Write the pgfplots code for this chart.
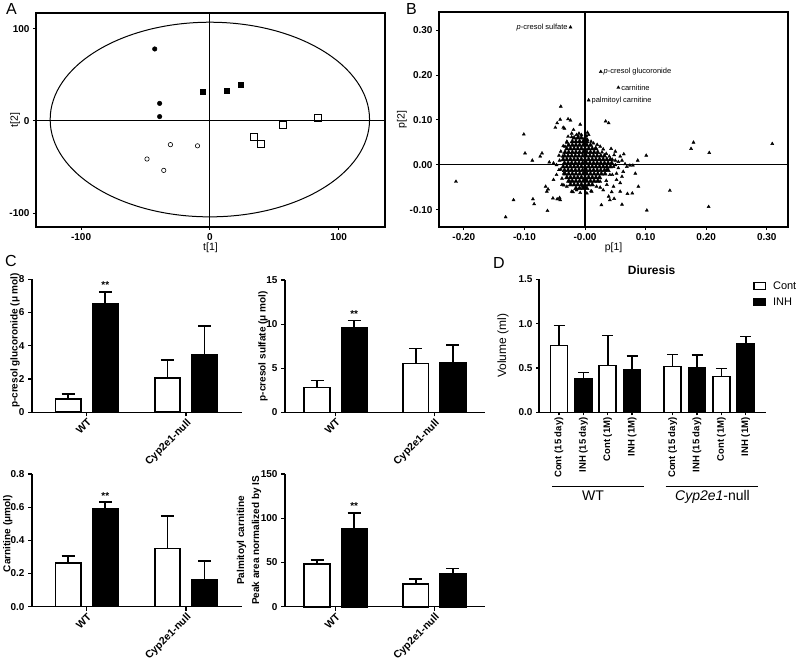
\documentclass[border=0pt]{standalone}
\usepackage{fontspec}
\setmainfont{Liberation Sans}
\usepackage{pgfplots}
\pgfplotsset{compat=1.18}
\pgfplotsset{
  pcax/.style={scale only axis, clip=false,
    axis line style={line width=1.1pt},
    every tick/.style={black, line width=0.9pt},
    tick align=outside, major tick length=3pt, tick pos=left,
    /pgf/number format/assume math mode=true,
    ticklabel style={font=\fontsize{10}{12}\selectfont\bfseries},
    label style={font=\fontsize{10.5}{12}\selectfont}},
  barax/.style={scale only axis, clip=false, axis lines*=left,
    axis line style={line width=1.3pt},
    every tick/.style={black, line width=1.2pt},
    tick align=outside, major tick length=4pt, ymin=0,
    /pgf/number format/assume math mode=true,
    ticklabel style={font=\fontsize{10}{11}\selectfont\bfseries},
    label style={font=\fontsize{10}{15}\selectfont\bfseries}},
  cax/.style={barax, xtick={1,2}, xticklabels={WT,Cyp2e1-null},
    xticklabel style={rotate=45, anchor=north east, inner sep=1pt, font=\fontsize{10.5}{11}\selectfont\bfseries}},
  wbar/.style={ybar, bar width=#1, bar shift=0pt, fill=white, draw=black, line width=1.6pt,
    error bars/y dir=plus, error bars/y explicit,
    error bars/error bar style={line width=1.6pt, black},
    error bars/error mark options={rotate=90, mark size=6.5pt, line width=1.6pt, black}},
  kbar/.style={wbar=#1, fill=black},
}
\begin{document}
\begin{tikzpicture}
\useasboundingbox (0pt,0pt) rectangle (800pt,-660pt);
% panel letters
\node[anchor=base west, inner sep=0pt, font=\fontsize{16}{16}\selectfont] at (6pt,-15pt) {A};
\node[anchor=base west, inner sep=0pt, font=\fontsize{16}{16}\selectfont] at (406pt,-15pt) {B};
\node[anchor=base west, inner sep=0pt, font=\fontsize{16}{16}\selectfont] at (5pt,-267pt) {C};
\node[anchor=base west, inner sep=0pt, font=\fontsize{16}{16}\selectfont] at (493pt,-269pt) {D};

% ---------------- A ----------------
\begin{axis}[pcax, at={(36pt,-13pt)}, anchor=north west, width=349pt, height=214pt,
  xmin=-135, xmax=136, ymin=-115, ymax=117,
  xtick={-100,0,100}, ytick={-100,0,100},
  xlabel={t[1]}, ylabel={t[2]},
  xlabel style={at={(axis description cs:0.5,-0.098)}, anchor=center},
  ylabel style={at={(axis description cs:-0.06,0.5)}, anchor=center}]
\draw[line width=1.1pt] (axis cs:-135,0) -- (axis cs:136,0);
\draw[line width=1.1pt] (axis cs:0,-115) -- (axis cs:0,117);
\draw[line width=1pt] (axis cs:0,1.5) ellipse [x radius=124, y radius=105.5];
\addplot[only marks, mark=*, mark size=2.3pt] coordinates {(-42.8,78) (-39,19) (-39,4.7)};
\addplot[only marks, mark=square*, mark size=2.5pt] coordinates {(-5.7,31.5) (13,33) (23.9,38.8)};
\addplot[only marks, mark=o, mark size=2.2pt, mark options={line width=0.6pt}] coordinates {(-30.6,-25.7) (-9.6,-27) (-48.8,-41.3) (-35.8,-53.6)};
\addplot[only marks, mark=square, mark size=3.5pt, mark options={line width=1.1pt}] coordinates {(34.2,-17.7) (39.4,-25) (57,-4.3) (84.3,2.9)};
\end{axis}

% ---------------- B ----------------
\begin{axis}[pcax, at={(439pt,-12pt)}, anchor=north west, width=349pt, height=215pt,
  xmin=-0.241, xmax=0.335, ymin=-0.138, ymax=0.34,
  xtick={-0.2,-0.1,0,0.1,0.2,0.3}, xticklabels={-0.20,-0.10,-0.00,0.10,0.20,0.30},
  ytick={-0.1,0,0.1,0.2,0.3}, yticklabels={-0.10,0.00,0.10,0.20,0.30},
  xlabel={p[1]}, ylabel={p[2]},
  xlabel style={at={(axis description cs:0.5,-0.098)}, anchor=center},
  ylabel style={at={(axis description cs:-0.106,0.5)}, anchor=center}]
\draw[line width=1.1pt] (axis cs:-0.241,0) -- (axis cs:0.335,0);
\draw[line width=1.1pt] (axis cs:0,-0.138) -- (axis cs:0,0.34);
% dense core
\addplot[only marks, mark=triangle*, mark size=2.6pt] coordinates {
(-0.018,0.060)(-0.012,0.060)(-0.006,0.060)(0.000,0.060)
(-0.021,0.052)(-0.015,0.052)(-0.009,0.052)(-0.003,0.052)(0.003,0.052)
(-0.027,0.044)(-0.021,0.044)(-0.015,0.044)(-0.009,0.044)(-0.003,0.044)(0.003,0.044)(0.009,0.044)
(-0.030,0.036)(-0.024,0.036)(-0.018,0.036)(-0.012,0.036)(-0.006,0.036)(0.000,0.036)(0.006,0.036)(0.012,0.036)(0.018,0.036)
(-0.033,0.028)(-0.027,0.028)(-0.021,0.028)(-0.015,0.028)(-0.009,0.028)(-0.003,0.028)(0.003,0.028)(0.009,0.028)(0.015,0.028)(0.021,0.028)
(-0.034,0.020)(-0.028,0.020)(-0.022,0.020)(-0.016,0.020)(-0.010,0.020)(-0.004,0.020)(0.002,0.020)(0.008,0.020)(0.014,0.020)(0.020,0.020)(0.026,0.020)(0.032,0.020)
(-0.036,0.012)(-0.030,0.012)(-0.024,0.012)(-0.018,0.012)(-0.012,0.012)(-0.006,0.012)(0.000,0.012)(0.006,0.012)(0.012,0.012)(0.018,0.012)(0.024,0.012)(0.030,0.012)(0.036,0.012)(0.042,0.012)
(-0.034,0.004)(-0.028,0.004)(-0.022,0.004)(-0.016,0.004)(-0.010,0.004)(-0.004,0.004)(0.002,0.004)(0.008,0.004)(0.014,0.004)(0.020,0.004)(0.026,0.004)(0.032,0.004)(0.038,0.004)(0.044,0.004)
(-0.036,-0.004)(-0.030,-0.004)(-0.024,-0.004)(-0.018,-0.004)(-0.012,-0.004)(-0.006,-0.004)(0.000,-0.004)(0.006,-0.004)(0.012,-0.004)(0.018,-0.004)(0.024,-0.004)(0.030,-0.004)(0.036,-0.004)(0.042,-0.004)
(-0.034,-0.012)(-0.028,-0.012)(-0.022,-0.012)(-0.016,-0.012)(-0.010,-0.012)(-0.004,-0.012)(0.002,-0.012)(0.008,-0.012)(0.014,-0.012)(0.020,-0.012)(0.026,-0.012)(0.032,-0.012)(0.038,-0.012)
(-0.033,-0.020)(-0.027,-0.020)(-0.021,-0.020)(-0.015,-0.020)(-0.009,-0.020)(-0.003,-0.020)(0.003,-0.020)(0.009,-0.020)(0.015,-0.020)(0.021,-0.020)(0.027,-0.020)(0.033,-0.020)
(-0.030,-0.028)(-0.024,-0.028)(-0.018,-0.028)(-0.012,-0.028)(-0.006,-0.028)(0.000,-0.028)(0.006,-0.028)(0.012,-0.028)(0.018,-0.028)(0.024,-0.028)
(-0.027,-0.036)(-0.021,-0.036)(-0.015,-0.036)(-0.009,-0.036)(-0.003,-0.036)(0.003,-0.036)(0.009,-0.036)(0.015,-0.036)(0.021,-0.036)
(-0.024,-0.044)(-0.018,-0.044)(-0.012,-0.044)(-0.006,-0.044)(0.000,-0.044)(0.006,-0.044)(0.012,-0.044)
(-0.015,-0.052)(-0.009,-0.052)(-0.003,-0.052)(0.003,-0.052)
};
% scattered points
\addplot[only marks, mark=triangle*, mark size=1.8pt] coordinates {
(-0.024,0.306)(0.026,0.207)(0.055,0.172)(0.006,0.144)
(-0.040,0.130)(-0.049,0.083)(-0.046,0.093)(-0.041,0.101)(-0.036,0.083)(-0.028,0.102)(-0.024,0.099)(-0.034,0.081)
(-0.008,0.090)(0.034,0.097)(0.039,0.093)
(-0.101,0.068)(-0.099,0.026)(-0.087,0.010)(-0.074,0.019)(-0.071,0.026)(-0.059,0.006)(-0.052,0.004)
(-0.213,-0.037)(-0.131,-0.116)(-0.118,-0.078)(-0.086,-0.076)(-0.084,-0.087)(-0.062,-0.102)
(-0.065,-0.048)(-0.063,-0.059)(-0.061,-0.054)(-0.053,-0.074)(-0.046,-0.076)(-0.041,-0.078)(-0.042,-0.073)
(-0.052,-0.033)(-0.038,-0.044)(-0.035,-0.019)(-0.037,0.019)(-0.043,0.021)(-0.047,0.000)(-0.043,-0.011)(-0.047,-0.022)
(-0.033,0.041)(-0.030,0.052)(-0.028,0.063)(-0.022,0.070)(-0.014,0.067)(-0.019,0.078)(-0.011,0.063)(-0.006,0.067)
(0.002,0.064)(0.004,0.056)(0.006,0.067)(0.014,0.048)(0.017,0.037)(0.025,0.041)(0.043,0.036)(0.040,0.019)
(0.050,0.030)(0.058,0.019)(0.061,0.010)(0.064,0.024)(0.074,-0.001)(0.079,-0.001)(0.083,-0.019)(0.087,0.010)
(0.101,0.021)(0.088,-0.048)(0.070,-0.064)(0.078,-0.063)(0.061,-0.088)(0.027,-0.089)(0.039,-0.070)(0.041,-0.078)
(0.048,-0.075)(0.058,-0.059)(0.047,-0.048)(0.052,-0.033)(0.036,-0.044)(0.030,-0.056)(0.019,-0.048)(0.011,-0.059)
(0.025,-0.037)(0.003,-0.063)(-0.004,-0.048)(-0.014,-0.056)(-0.022,-0.059)(-0.030,-0.048)(-0.025,-0.037)
(0.140,-0.057)(0.102,-0.101)(0.204,-0.093)(0.175,0.036)(0.179,0.050)(0.205,0.027)(0.309,0.047)
(0.036,-0.011)(0.047,-0.004)(0.055,-0.007)(0.052,-0.019)(0.063,-0.015)(0.061,-0.026)(0.069,-0.004)(0.041,-0.022)
(0.055,0.007)(0.045,0.012)(0.050,0.000)(0.066,0.002)(0.058,-0.040)(0.044,-0.060)
(-0.040,0.030)(-0.042,0.010)(-0.040,-0.010)(-0.038,-0.030)(-0.035,-0.045)(-0.020,-0.060)(-0.008,-0.062)
(0.010,-0.058)(0.025,-0.050)(0.035,-0.035)(0.045,-0.022)(0.050,0.010)(0.048,0.022)(0.030,0.035)(0.020,0.045)
(0.010,0.052)(0.004,0.072)(-0.010,0.070)(-0.022,0.062)(-0.030,0.050)(-0.036,0.042)(0.028,0.028)(0.035,0.025)
};
\node[anchor=east, inner sep=1.5pt, font=\fontsize{7.5}{9}\selectfont] at (axis cs:-0.026,0.306) {\textit{p}-cresol sulfate};
\node[anchor=west, inner sep=1.5pt, font=\fontsize{7.5}{9}\selectfont] at (axis cs:0.028,0.207) {\textit{p}-cresol glucoronide};
\node[anchor=west, inner sep=1.5pt, font=\fontsize{7.5}{9}\selectfont] at (axis cs:0.057,0.172) {carnitine};
\node[anchor=west, inner sep=1.5pt, font=\fontsize{7.5}{9}\selectfont] at (axis cs:0.008,0.144) {palmitoyl carnitine};
\end{axis}

% ---------------- C1 ----------------
\begin{axis}[cax, at={(32pt,-279.3pt)}, anchor=north west, width=210pt, height=133pt,
  xmin=0.449, xmax=2.564, ymax=8, ytick={0,2,4,6,8},
  ylabel={p-cresol glucoronide (μ mol)},
  ylabel style={at={(axis description cs:-0.081,0.54)}, anchor=center}]
\addplot[wbar=0.256] coordinates {(0.813,0.8) +- (0,0.3) (1.813,2.08) +- (0,1.07)};
\addplot[kbar=0.256] coordinates {(1.187,6.55) +- (0,0.7) (2.187,3.45) +- (0,1.74)};
\node[anchor=south, font=\fontsize{10}{10}\selectfont\bfseries, inner sep=2pt] at (axis cs:1.187,7.3) {**};
\end{axis}

% ---------------- C2 ----------------
\begin{axis}[cax, at={(285pt,-280pt)}, anchor=north west, width=200pt, height=132.3pt,
  xmin=0.487, xmax=2.513, ymax=15, ytick={0,5,10,15},
  ylabel={p-cresol sulfate (μ mol)},
  ylabel style={at={(axis description cs:-0.11,0.5)}, anchor=center}]
\addplot[wbar=0.26] coordinates {(0.812,2.8) +- (0,0.8) (1.812,5.55) +- (0,1.7)};
\addplot[kbar=0.26] coordinates {(1.188,9.6) +- (0,0.8) (2.188,5.6) +- (0,2.0)};
\node[anchor=south, font=\fontsize{10}{10}\selectfont\bfseries, inner sep=2pt] at (axis cs:1.188,10.5) {**};
\end{axis}

% ---------------- C3 ----------------
\begin{axis}[cax, at={(32pt,-474pt)}, anchor=north west, width=210pt, height=132.7pt,
  xmin=0.449, xmax=2.564, ymax=0.8, ytick={0,0.2,0.4,0.6,0.8},
  yticklabel style={/pgf/number format/.cd, fixed, fixed zerofill, precision=1},
  ylabel={Carnitine (μmol)},
  ylabel style={at={(axis description cs:-0.115,0.55)}, anchor=center}]
\addplot[wbar=0.256] coordinates {(0.813,0.265) +- (0,0.04) (1.813,0.35) +- (0,0.195)};
\addplot[kbar=0.256] coordinates {(1.187,0.59) +- (0,0.04) (2.187,0.165) +- (0,0.11)};
\node[anchor=south, font=\fontsize{10}{10}\selectfont\bfseries, inner sep=2pt] at (axis cs:1.187,0.635) {**};
\end{axis}

% ---------------- C4 ----------------
\begin{axis}[cax, at={(285pt,-474pt)}, anchor=north west, width=200pt, height=132.7pt,
  xmin=0.487, xmax=2.513, ymax=150, ytick={0,50,100,150},
  ylabel={Palmitoyl carnitine\\Peak area normalized by IS},
  ylabel style={at={(axis description cs:-0.18,0.5)}, anchor=center, align=center}]
\addplot[wbar=0.26] coordinates {(0.812,48) +- (0,4.5) (1.812,26) +- (0,5)};
\addplot[kbar=0.26] coordinates {(1.188,88) +- (0,18) (2.188,37) +- (0,6)};
\node[anchor=south, font=\fontsize{10}{10}\selectfont\bfseries, inner sep=2pt] at (axis cs:1.188,107) {**};
\end{axis}

% ---------------- D ----------------
\begin{axis}[barax, at={(539pt,-279.3pt)}, anchor=north west, width=227pt, height=133pt,
  xmin=0.179, xmax=9.5, ymax=1.5, ytick={0,0.5,1,1.5}, major tick length=3pt,
  yticklabel style={/pgf/number format/.cd, fixed, fixed zerofill, precision=1},
  xtick={1,2,3,4,5.667,6.667,7.667,8.667},
  xticklabels={Cont (15 day),INH (15 day),Cont (1M),INH (1M),Cont (15 day),INH (15 day),Cont (1M),INH (1M)},
  xticklabel style={rotate=90, anchor=east, inner sep=2pt, font=\fontsize{9.5}{10}\selectfont\bfseries},
  ylabel={Volume (ml)},
  ylabel style={at={(axis description cs:-0.159,0.5)}, anchor=center, font=\fontsize{12}{14}\selectfont\mdseries},
  title={Diuresis},
  title style={at={(axis description cs:0.496,1.02)}, anchor=center, font=\fontsize{12}{14}\selectfont\bfseries},
  legend entries={Cont,INH},
  legend style={at={(axis description cs:0.943,1.0)}, anchor=north west, draw=none, fill=none,
    inner sep=0pt, row sep=3pt, column sep=5pt, font=\fontsize{11}{13}\selectfont, cells={anchor=west}},
  ]
\addlegendimage{legend image code/.code={\draw[fill=white, draw=black, line width=1.3pt] (0pt,-3.5pt) rectangle (11.5pt,3.5pt);}}
\addlegendimage{legend image code/.code={\draw[fill=black, draw=black, line width=1.3pt] (0pt,-3.5pt) rectangle (11.5pt,3.5pt);}}
\addplot[wbar=0.70, error bars/error mark options={rotate=90, mark size=5.5pt, line width=1.6pt, black}] coordinates {(1,0.752) +- (0,0.225) (3,0.526) +- (0,0.342) (5.667,0.515) +- (0,0.139) (7.667,0.402) +- (0,0.094)};
\addplot[kbar=0.70, error bars/error mark options={rotate=90, mark size=5.5pt, line width=1.6pt, black}] coordinates {(2,0.383) +- (0,0.067) (4,0.477) +- (0,0.158) (6.667,0.504) +- (0,0.143) (8.667,0.771) +- (0,0.082)};
\end{axis}
\draw[line width=1.2pt] (552pt,-486.7pt) -- (644pt,-486.7pt);
\draw[line width=1.2pt] (665.7pt,-486.7pt) -- (758pt,-486.7pt);
\node[anchor=base, inner sep=0pt, font=\fontsize{14}{16}\selectfont] at (593pt,-500.5pt) {WT};
\node[anchor=base, inner sep=0pt, font=\fontsize{14}{16}\selectfont] at (712.5pt,-500.5pt) {\textit{Cyp2e1}-null};
\end{tikzpicture}
\end{document}
